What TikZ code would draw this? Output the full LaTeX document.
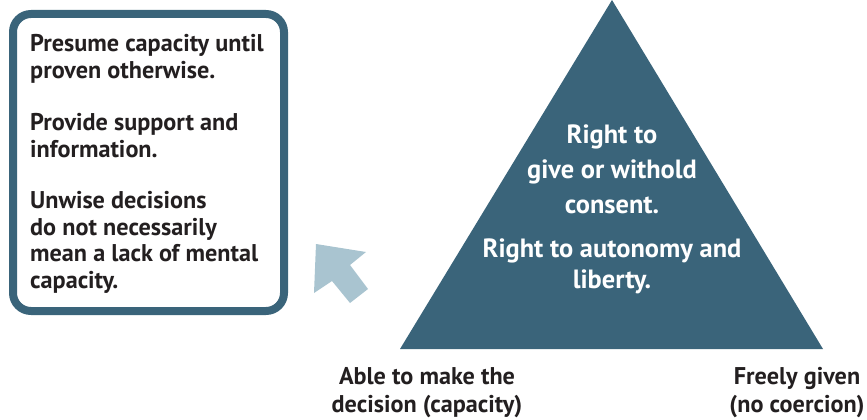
\documentclass[tikz,border=0pt]{standalone}
\usepackage{fontspec}
\setmainfont{PT Sans}
\begin{document}
\begin{tikzpicture}[x=1pt,y=-1pt,
  txt/.style={font=\bfseries\fontsize{24.2}{26.5}\selectfont, text=textdark, inner sep=0pt},
  tritxt/.style={font=\bfseries\fontsize{26.4}{35}\selectfont, text=white, inner sep=0pt, align=center},
]
\definecolor{darkblue}{RGB}{58,100,122}
\definecolor{lightblue}{RGB}{169,196,208}
\definecolor{textdark}{RGB}{35,31,32}
\useasboundingbox (0,0) rectangle (867,420);
% box
\draw[darkblue, line width=8pt, rounded corners=18pt, fill=white] (13,14) rectangle (284,311);
\node[txt, anchor=base west, align=left] (p1) at (30,78) {Presume capacity until\\proven otherwise.};
\node[txt, anchor=base west, align=left] (p2) at (30,157) {Provide support and\\information.};
\node[txt, anchor=base west, align=left] (p3) at (30,288) {Unwise decisions\\do not necessarily\\mean a lack of mental\\capacity.};
% arrow
\fill[lightblue] (316,244) -- (366,252) -- (350,265) -- (368,289) -- (350,303) -- (332,281) -- (314,293) -- cycle;
% triangle
\fill[darkblue] (612,0) -- (823,349) -- (400,349) -- cycle;
\node[tritxt, anchor=base] (t1) at (612,213) {Right to\\give or withold\\consent.};
\node[tritxt, font=\bfseries\fontsize{26.4}{31}\selectfont, anchor=base] (t2) at (612,288) {Right to autonomy and\\liberty.};
\node[txt, font=\bfseries\fontsize{24.2}{28}\selectfont, anchor=base, align=center] (b1) at (427,412) {Able to make the\\decision (capacity)};
\node[txt, font=\bfseries\fontsize{24.2}{28}\selectfont, anchor=base, align=center] (b2) at (797,412) {Freely given\\(no coercion)};
\end{tikzpicture}
\end{document}
